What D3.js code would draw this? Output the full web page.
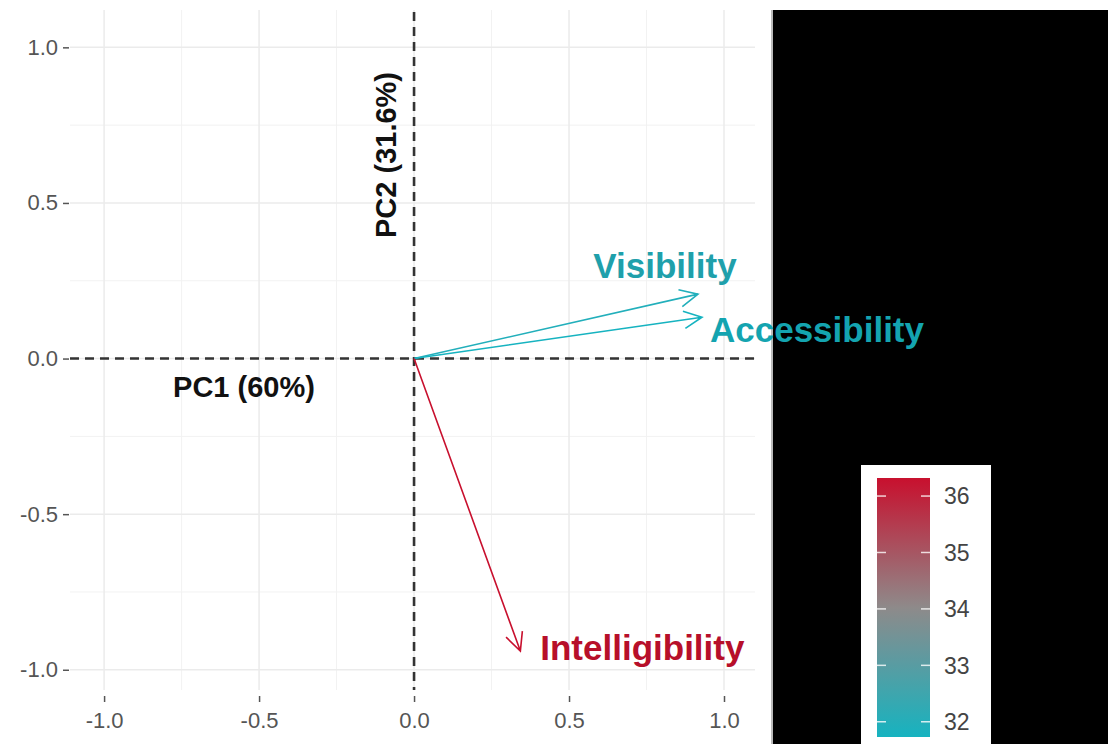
<!DOCTYPE html>
<html>
<head>
<meta charset="utf-8">
<script src="https://cdn.jsdelivr.net/npm/d3@7"></script>
<style>
  body { margin: 0; background: #fff; }
  svg { display: block; font-family: "Liberation Sans", Arial, sans-serif; }
</style>
</head>
<body>
<svg id="chart" width="1108" height="744"></svg>
<script>
// PCA variable loadings
const variables = ['Visibility', 'Accessibility', 'Intelligibility'];
const pc1 = [0.916, 0.929, 0.343];
const pc2 = [0.207, 0.133, -0.940];
const contrib = [31.95, 31.73, 36.32];

const axisLabels = ['PC1 (60%)', 'PC2 (31.6%)'];
const axisTicks = [-1.0, -0.5, 0.0, 0.5, 1.0];
const minorTicks = [-0.75, -0.25, 0.25, 0.75];
const legendTicks = [32, 33, 34, 35, 36];

const svg = d3.select('#chart');

const x_scale = d3.scaleLinear().domain([-1.11, 1.1]).range([70, 755]);
const y_scale = d3.scaleLinear().domain([-1.065, 1.12]).range([690, 10]);

const cMin = d3.min(contrib), cMax = d3.max(contrib);
const color = d3.scaleLinear()
  .domain([cMin, (cMin + cMax) / 2, cMax])
  .range(['#16b3c0', '#8e8a8a', '#c8102e'])
  .interpolate(d3.interpolateRgb);

// grid
const grid = svg.append('g');
grid.selectAll('.minor-x').data(minorTicks).join('line')
  .attr('x1', d => x_scale(d)).attr('x2', d => x_scale(d))
  .attr('y1', y_scale.range()[1]).attr('y2', y_scale.range()[0])
  .attr('stroke', '#f2f2f2').attr('stroke-width', 1);
grid.selectAll('.minor-y').data(minorTicks).join('line')
  .attr('y1', d => y_scale(d)).attr('y2', d => y_scale(d))
  .attr('x1', x_scale.range()[0]).attr('x2', x_scale.range()[1])
  .attr('stroke', '#f2f2f2').attr('stroke-width', 1);
grid.selectAll('.major-x').data(axisTicks).join('line')
  .attr('x1', d => x_scale(d)).attr('x2', d => x_scale(d))
  .attr('y1', y_scale.range()[1]).attr('y2', y_scale.range()[0])
  .attr('stroke', '#ebebeb').attr('stroke-width', 1.5);
grid.selectAll('.major-y').data(axisTicks).join('line')
  .attr('y1', d => y_scale(d)).attr('y2', d => y_scale(d))
  .attr('x1', x_scale.range()[0]).attr('x2', x_scale.range()[1])
  .attr('stroke', '#ebebeb').attr('stroke-width', 1.5);

// axes
const fmt = d => d.toFixed(1);
const x_axis = d3.axisBottom(x_scale).tickValues(axisTicks).tickFormat(fmt).tickSize(6).tickPadding(6);
const y_axis = d3.axisLeft(y_scale).tickValues(axisTicks).tickFormat(fmt).tickSize(6).tickPadding(5);

const gx = svg.append('g').attr('transform', 'translate(0,' + 696 + ')').call(x_axis);
const gy = svg.append('g').attr('transform', 'translate(' + 69 + ',0)').call(y_axis);
[gx, gy].forEach(g => {
  g.select('.domain').remove();
  g.selectAll('.tick line').attr('stroke', '#555').attr('stroke-width', 1.5);
  g.selectAll('.tick text').attr('fill', '#555').style('font-size', '22px');
});
gx.selectAll('.tick text').attr('dy', '0.9em');

// dashed zero lines
svg.append('line')
  .attr('x1', x_scale.range()[0]).attr('x2', x_scale.range()[1])
  .attr('y1', y_scale(0)).attr('y2', y_scale(0))
  .attr('stroke', '#333').attr('stroke-width', 2.6).attr('stroke-dasharray', '9,6');
svg.append('line')
  .attr('x1', x_scale(0)).attr('x2', x_scale(0))
  .attr('y1', y_scale.range()[1] + 2).attr('y2', y_scale.range()[0])
  .attr('stroke', '#333').attr('stroke-width', 2.6).attr('stroke-dasharray', '9,6');

// axis titles
svg.append('text')
  .attr('x', 244).attr('y', y_scale(0) + 38)
  .attr('text-anchor', 'middle')
  .style('font-size', '29px').style('font-weight', 'bold').attr('fill', '#111')
  .text(axisLabels[0]);
svg.append('text')
  .attr('transform', 'translate(' + (x_scale(0) - 18) + ',' + 155 + ') rotate(-90)')
  .attr('text-anchor', 'middle')
  .style('font-size', '29px').style('font-weight', 'bold').attr('fill', '#111')
  .text(axisLabels[1]);

// arrows
const headLen = 20, headAngle = Math.PI / 7;
const arrows = variables.map((v, i) => ({ name: v, x: pc1[i], y: pc2[i], c: contrib[i] }));

const ag = svg.append('g');
arrows.forEach(d => {
  const x0 = x_scale(0), y0 = y_scale(0);
  const x1 = x_scale(d.x), y1 = y_scale(d.y);
  const ang = Math.atan2(y1 - y0, x1 - x0);
  const p = d3.path();
  p.moveTo(x0, y0);
  p.lineTo(x1, y1);
  p.moveTo(x1 - headLen * Math.cos(ang - headAngle), y1 - headLen * Math.sin(ang - headAngle));
  p.lineTo(x1, y1);
  p.lineTo(x1 - headLen * Math.cos(ang + headAngle), y1 - headLen * Math.sin(ang + headAngle));
  ag.append('path')
    .attr('d', p.toString())
    .attr('fill', 'none')
    .attr('stroke', color(d.c))
    .attr('stroke-width', 1.6);
});

// black area
svg.append('rect').attr('x', 773).attr('y', 10).attr('width', 335).attr('height', 734).attr('fill', '#000');
svg.append('line').attr('x1', 772).attr('x2', 772).attr('y1', 10).attr('y2', 744).attr('stroke', '#777').attr('stroke-width', 1);

// labels (repelled offsets in pixels), drawn above the black area
const nudge = { Visibility: [-33, -16], Accessibility: [115, 25], Intelligibility: [122, 9] };
svg.append('g').selectAll('text').data(arrows).join('text')
  .attr('x', d => x_scale(d.x) + nudge[d.name][0])
  .attr('y', d => y_scale(d.y) + nudge[d.name][1])
  .attr('text-anchor', 'middle')
  .style('font-size', '35px').style('font-weight', 'bold')
  .attr('fill', d => d3.color(color(d.c)).darker(0.25))
  .text(d => d.name);

// legend
const legend = svg.append('g');
legend.append('rect').attr('x', 861).attr('y', 465).attr('width', 130).attr('height', 279).attr('fill', '#fff');

const barTop = 478, barBottom = 737, barX = 877, barW = 53;
const leg_scale = d3.scaleLinear().domain([cMin, cMax]).range([barBottom, barTop]);

const defs = svg.append('defs');
const grad = defs.append('linearGradient').attr('id', 'cgrad')
  .attr('x1', 0).attr('y1', 1).attr('x2', 0).attr('y2', 0);
d3.range(0, 1.0001, 0.1).forEach(t => {
  grad.append('stop').attr('offset', t).attr('stop-color', color(cMin + t * (cMax - cMin)));
});
legend.append('rect')
  .attr('x', barX).attr('y', barTop).attr('width', barW).attr('height', barBottom - barTop)
  .attr('fill', 'url(#cgrad)');

legendTicks.forEach(t => {
  const yy = leg_scale(t);
  legend.append('line').attr('x1', barX).attr('x2', barX + 9).attr('y1', yy).attr('y2', yy)
    .attr('stroke', '#fff').attr('stroke-width', 1.5).attr('opacity', 0.8);
  legend.append('line').attr('x1', barX + barW - 9).attr('x2', barX + barW).attr('y1', yy).attr('y2', yy)
    .attr('stroke', '#fff').attr('stroke-width', 1.5).attr('opacity', 0.8);
  legend.append('text').attr('x', barX + barW + 14).attr('y', yy)
    .attr('dy', '0.36em')
    .style('font-size', '23px').attr('fill', '#444')
    .text(t);
});
</script>
</body>
</html>
